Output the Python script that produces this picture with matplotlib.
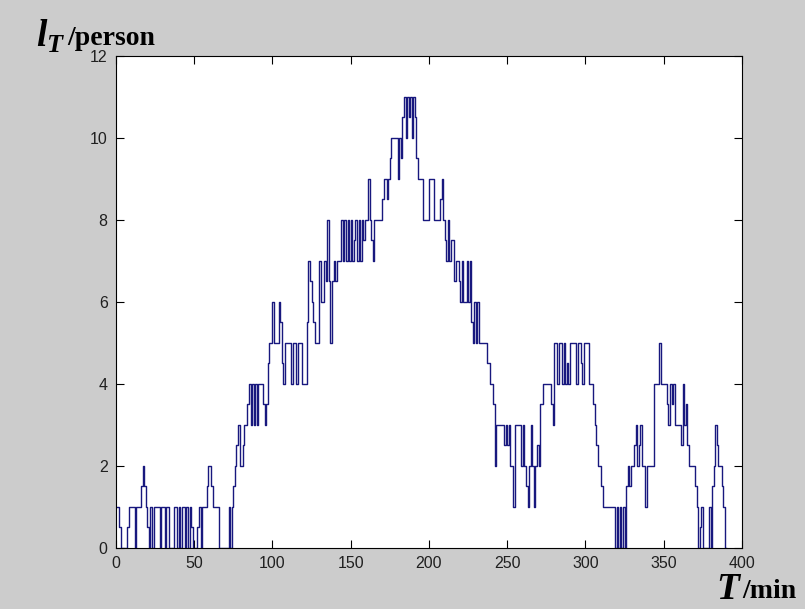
import numpy as np
import matplotlib
matplotlib.use("Agg")
import matplotlib.pyplot as plt

# queue length l_T (persons) sampled each minute, T = 0 .. 389 min
queue_len = [
    1, 1, 0.5, 0, 0, 0, 0, 0.5, 1, 1,
    1, 1, 0, 1, 1, 1, 1.5, 2, 1.5, 1,
    0.5, 0, 1, 0, 1, 1, 1, 1, 0, 1,
    1, 0, 1, 1, 0, 0, 0, 1, 1, 0,
    1, 0, 1, 1, 0, 1, 0, 1, 0.5, 0,
    0, 0, 0.5, 1, 0, 1, 1, 1, 1.5, 2,
    2, 1.5, 1, 1, 1, 1, 0, 0, 0, 0,
    0, 0, 1, 0, 1, 1.5, 2, 2.5, 3, 2,
    2, 2.5, 3, 3, 3.5, 4, 3, 4, 3, 4,
    3, 4, 4, 4, 3.5, 3, 3.5, 4.5, 5, 5,
    6, 5, 5, 5, 6, 5.5, 4.5, 4, 5, 5,
    5, 5, 4, 5, 5, 4, 5, 5, 5, 4,
    4, 4, 5.5, 7, 6.5, 6, 5.5, 5, 5, 5,
    7, 6, 6, 7, 6.5, 8, 6.5, 5, 6.5, 7,
    6.5, 7, 7, 7, 8, 7, 8, 7, 8, 7,
    8, 7, 7.5, 8, 7, 8, 7, 8, 7.5, 8,
    8, 9, 8, 7.5, 7, 8, 8, 8, 8, 8,
    8.5, 9, 9, 8.5, 9, 9.5, 10, 10, 10, 10,
    9, 10, 9.5, 10.5, 11, 10, 11, 10.5, 11, 10,
    11, 10.5, 9.5, 9, 9, 9, 8, 8, 8, 8,
    9, 9, 9, 8, 8, 8, 8, 8.5, 9, 8,
    7.5, 7, 8, 7, 7.5, 7.5, 6.5, 7, 7, 6.5,
    6, 7, 6, 6, 7, 6, 7, 5.5, 5, 6,
    5, 6, 5, 5, 5, 5, 5, 4.5, 4.5, 4,
    4, 3.5, 2, 3, 3, 3, 3, 3, 2.5, 3,
    2.5, 3, 2, 2, 1, 3, 3, 3, 3, 2,
    3, 2, 1.5, 1, 2, 3, 2, 1, 2, 2.5,
    2, 3.5, 3.5, 4, 4, 4, 4, 4, 3.5, 3,
    5, 5, 4, 5, 5, 4, 5, 4, 4.5, 4,
    5, 5, 5, 5, 4, 5, 5, 4.5, 4, 5,
    5, 5, 4, 4, 4, 3.5, 3, 2.5, 2, 2,
    1.5, 1, 1, 1, 1, 1, 1, 1, 1, 0,
    1, 0, 1, 0, 1, 0, 1.5, 2, 1.5, 2,
    2, 2.5, 3, 2, 2.5, 3, 2, 2, 1, 2,
    2, 2, 2, 2, 4, 4, 4, 5, 4, 4,
    4, 4, 3.5, 3, 4, 3.5, 4, 3, 3, 3,
    3, 2.5, 4, 3, 3.5, 2.5, 2, 2, 2, 2,
    1.5, 1, 0, 0.5, 1, 0, 0, 0, 0, 1,
    0, 1.5, 2, 3, 2.5, 2, 2, 1.5, 1, 0,
]
x_ticks = [0, 50, 100, 150, 200, 250, 300, 350, 400]
y_ticks = [0, 2, 4, 6, 8, 10, 12]

t = np.arange(len(queue_len) + 1)
v = np.array(queue_len + [queue_len[-1]])

plt.rcParams["mathtext.fontset"] = "custom"
plt.rcParams["mathtext.bfit"] = "Liberation Serif:italic:bold"
plt.rcParams["mathtext.bf"] = "Liberation Serif:bold"
plt.rcParams["mathtext.rm"] = "Liberation Serif"

fig = plt.figure(figsize=(8.05, 6.09), dpi=100, facecolor="#cccccc")
ax = fig.add_axes([0.1441, 0.1002, 0.7776, 0.8080])
ax.set_facecolor("white")
ax.step(t, v, where="post", color="#18187e", linewidth=1.0)

ax.set_xlim(0, 400)
ax.set_ylim(0, 12)
ax.set_xticks(x_ticks)
ax.set_yticks(y_ticks)
ax.tick_params(direction="in", top=True, right=True, length=6, width=0.8,
               labelsize=11.5, labelcolor="#202020", pad=6)
for lab in ax.get_xticklabels() + ax.get_yticklabels():
    lab.set_family("Liberation Sans")
for s in ax.spines.values():
    s.set_linewidth(0.8)

fig.text(0.045, 0.924, r"$\mathbfit{l}_{\mathbfit{T}}$", fontsize=27,
         family="Liberation Serif", fontweight="bold")
fig.text(0.084, 0.926, "/person", fontsize=20, family="Liberation Serif",
         fontweight="bold")
fig.text(0.890, 0.016, r"$\mathbfit{T}$", fontsize=27,
         family="Liberation Serif", fontweight="bold")
fig.text(0.9225, 0.018, "/min", fontsize=20, family="Liberation Serif",
         fontweight="bold")

fig.savefig("out.png", dpi=100, facecolor=fig.get_facecolor())
